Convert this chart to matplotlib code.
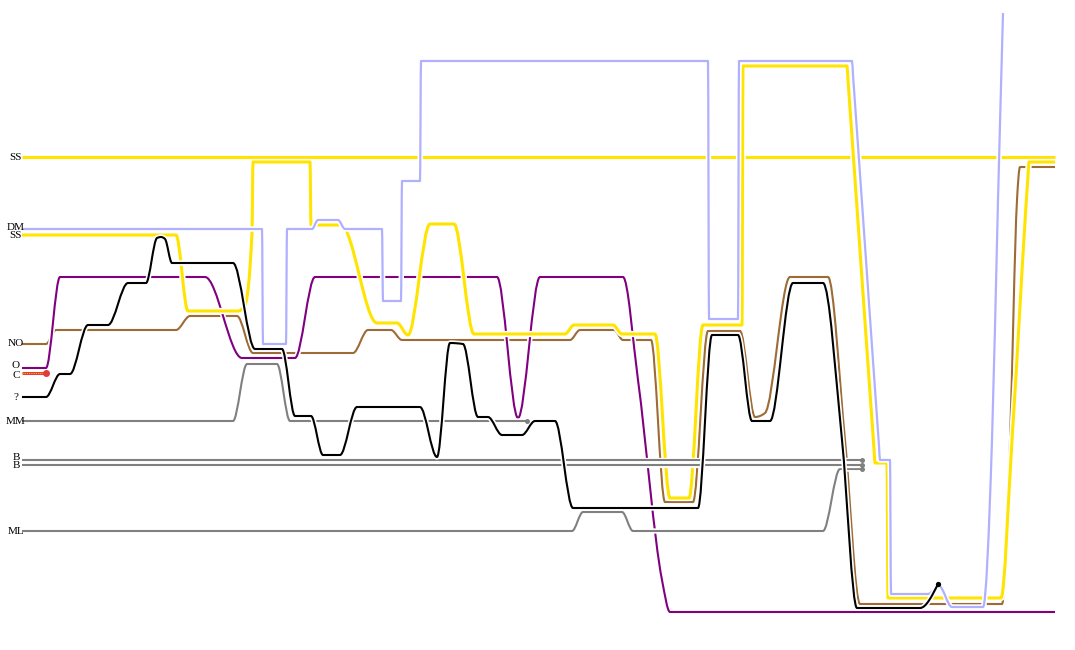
import numpy as np
import matplotlib
matplotlib.use("Agg")
import matplotlib.pyplot as plt
from matplotlib.path import Path
from matplotlib.patches import PathPatch

# ---------------- data (waypoints) ----------------
ss_top = [(22, 157), (1055, 157)]

dm_blue = [(22, 229), (262, 229), (263, 344), (286, 344), (287, 229), (312, 229),
           (318, 220), (338, 220), (345, 229), (382, 229), (383, 301), (401, 301),
           (402, 181), (420, 181), (421, 61), (708, 61), (709, 319), (738, 319),
           (739, 61), (852, 61), (853, 75), (866, 260), (879, 446), (880, 460),
           (890, 460), (891, 594), (928, 594), (939, 586), (952, 607), (983, 607),
           (992, 440), (998, 200), (1003, 13)]

ss_yellow = [(22, 235), (176, 235), (188, 311), (238, 311), (245, 305), (252, 233),
             (253, 162), (310, 162), (311, 225), (341, 225), (377, 323), (397, 323),
             (408, 335), (430, 224), (454, 224), (474, 334), (565, 334), (574, 325),
             (613, 325), (622, 334), (655, 334), (670, 498), (689, 498), (703, 325),
             (742, 325), (743, 66), (847, 66), (848, 80), (861, 265), (874, 449),
             (875, 463), (887, 463), (888, 598), (1001, 598), (1012, 440),
             (1028, 176), (1029, 162), (1055, 162)]

no_brown = [(22, 344), (46, 344), (56, 330), (176, 330), (190, 316), (237, 316),
            (253, 353), (353, 353), (368, 330), (391, 330), (402, 340), (570, 340),
            (580, 330), (614, 330), (623, 340), (651, 340), (665, 502), (693, 502),
            (708, 331), (740, 331), (755, 417), (765, 413), (790, 277), (828, 277),
            (845, 440), (860, 604), (1002, 604), (1010, 440), (1017, 200),
            (1020, 167), (1055, 167)]

o_purple = [(22, 368), (46, 368), (60, 277), (205, 277), (242, 358), (295, 358),
            (315, 277), (497, 277), (518, 418), (540, 277), (623, 277), (638, 380),
            (662, 580), (670, 612), (1055, 612)]

c_red = [(22, 373), (46, 373)]

q_black = [(22, 397), (46, 397), (60, 374), (70, 374), (88, 325), (108, 325),
           (128, 283), (146, 283), (157, 238), (161, 237), (165, 239), (172, 263),
           (233, 263), (255, 349), (282, 349), (295, 416), (311, 416), (323, 455),
           (340, 455), (357, 407), (420, 407), (437, 457), (450, 343), (463, 344),
           (478, 417), (488, 417), (502, 435), (522, 435), (535, 421), (555, 421),
           (573, 508), (698, 508), (712, 335), (738, 335), (752, 421), (770, 421),
           (793, 283), (823, 283), (842, 440), (857, 608), (920, 608), (938, 584)]

mm_gray = [(22, 421), (233, 421), (247, 364), (277, 364), (290, 421), (527, 421)]
b1_gray = [(22, 460), (862, 460)]
b2_gray = [(22, 465), (862, 465)]
ml_gray = [(22, 531), (572, 531), (583, 512), (622, 512), (633, 531), (823, 531),
           (840, 469), (862, 469)]

label_names = ["SS", "DM", "SS", "NO", "O", "C", "?", "MM", "B", "B", "ML"]
label_y = [157, 227, 236, 344, 366, 375, 398, 421, 457, 466, 531]

# ---------------- rendering helpers ----------------
def monotone_path(pts):
    x = np.array([p[0] for p in pts], float)
    y = np.array([p[1] for p in pts], float)
    n = len(x)
    if n == 2:
        return Path([(x[0], y[0]), (x[1], y[1])], [Path.MOVETO, Path.LINETO])
    h = np.diff(x)
    s = np.diff(y) / h
    t = np.zeros(n)
    for i in range(1, n - 1):
        s0, s1 = s[i - 1], s[i]
        p = (s0 * h[i] + s1 * h[i - 1]) / (h[i - 1] + h[i])
        t[i] = (np.sign(s0) + np.sign(s1)) * min(abs(s0), abs(s1), 0.5 * abs(p))
    t[0] = (3 * s[0] - t[1]) / 2
    t[-1] = (3 * s[-1] - t[-2]) / 2
    verts = [(x[0], y[0])]
    codes = [Path.MOVETO]
    for i in range(n - 1):
        d = h[i] / 3
        verts += [(x[i] + d, y[i] + d * t[i]),
                  (x[i + 1] - d, y[i + 1] - d * t[i + 1]),
                  (x[i + 1], y[i + 1])]
        codes += [Path.CURVE4] * 3
    return Path(verts, codes)


def draw(ax, pts, color, lw=1.5, halo=2.3):
    path = monotone_path(pts)
    ax.add_patch(PathPatch(path, fill=False, edgecolor="white", lw=lw + halo,
                           capstyle="butt", joinstyle="round"))
    ax.add_patch(PathPatch(path, fill=False, edgecolor=color, lw=lw,
                           capstyle="butt", joinstyle="round"))


fig = plt.figure(figsize=(10.75, 6.5), dpi=100)
ax = fig.add_axes([0, 0, 1, 1])
ax.set_xlim(0, 1075)
ax.set_ylim(650, 0)
ax.axis("off")

YEL = "#ffe400"
BLUE = "#b0b0ff"
BROWN = "#9e6a35"
PURP = "#800080"
GRAY = "#808080"

draw(ax, ss_top, YEL, lw=2.2)
draw(ax, no_brown, BROWN)
draw(ax, o_purple, PURP)
draw(ax, ss_yellow, YEL, lw=2.2)
draw(ax, dm_blue, BLUE, lw=1.6)
draw(ax, ml_gray, GRAY)
draw(ax, b1_gray, GRAY)
draw(ax, b2_gray, GRAY)
draw(ax, mm_gray, GRAY)
draw(ax, q_black, "black")

# C line: red with dotted yellow core
cx = [p[0] for p in c_red]
cy = [p[1] for p in c_red]
ax.plot(cx, cy, color="#e03c3c", lw=2.2, solid_capstyle="butt")
ax.plot(cx, cy, color="#ffc000", lw=0.8, ls=(0, (1, 1)))
ax.plot(cx[-1], cy[-1], "o", color="#e03c3c", ms=4)

# end dots
for series, col, ms in [(mm_gray, GRAY, 3.6), (b1_gray, GRAY, 3.6), (b2_gray, GRAY, 3.6),
                        (ml_gray, GRAY, 3.6), (q_black, "black", 3.8)]:
    ax.plot(series[-1][0], series[-1][1], "o", color=col, ms=ms, mec="none")

for name, yy in zip(label_names, label_y):
    ax.text(16, yy, name, ha="center", va="center", fontsize=8.0,
            family="Liberation Serif", color="black")

fig.savefig("out.png", dpi=100)
